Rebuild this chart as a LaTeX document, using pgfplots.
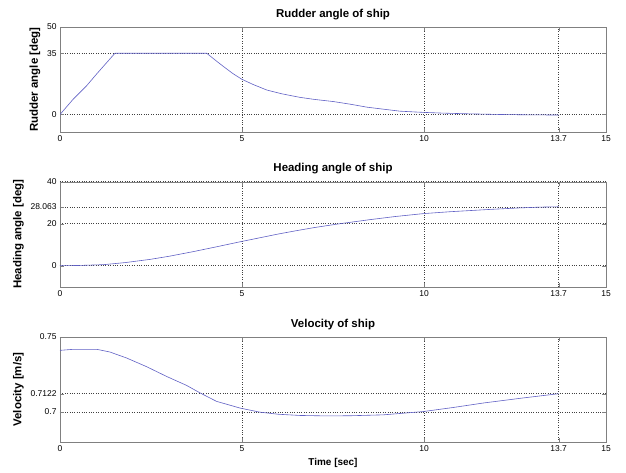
\documentclass[border=0pt]{standalone}
\usepackage{fontspec}
\setmainfont{Liberation Sans}
\usepackage{pgfplots}
\pgfplotsset{compat=1.18}
\definecolor{simblue}{RGB}{96,96,196}
\pgfplotsset{
  shipax/.style={
    width=546bp, height=105bp, scale only axis,
    xmin=0, xmax=15,
    xtick={0,5,10,13.7,15}, xticklabels={0,5,10,13.7,15},
    grid=major, grid style={dotted, black!75, line width=0.5pt},
    axis line style={gray}, tick style={gray}, tick align=inside,
    major tick length=4bp,
    ticklabel style={font=\fontsize{8.5}{10}\selectfont},
    title style={font=\bfseries\fontsize{11.5}{13}\selectfont, yshift=-2bp},
    ylabel style={font=\bfseries\fontsize{11.5}{13}\selectfont},
    xlabel style={font=\bfseries\fontsize{10}{12}\selectfont},
    scaled ticks=false,
  },
  shipline/.style={simblue, line width=0.6pt, mark=none},
}
\begin{document}
\begin{tikzpicture}
\path[use as bounding box] (-60bp,132bp) rectangle (566bp,-341bp);

\begin{axis}[shipax, at={(0,0)}, anchor=south west,
  title={Rudder angle of ship}, ylabel={Rudder angle [deg]},
  ymin=-10, ymax=50, ytick={0,35,50}, yticklabels={0,35,50}]
\addplot[shipline] coordinates {
  (0,0) (0.36,8.7) (0.73,16.4) (1.0,23) (1.28,29.6) (1.51,35)
  (4.03,35) (4.3,30.5) (4.53,26.8) (4.75,23.4) (4.99,20.2) (5.3,17.2)
  (5.68,14.0) (6.1,11.8) (6.59,9.8) (7.0,8.6) (7.51,7.4) (8.0,5.8)
  (8.43,4.2) (8.9,3.0) (9.34,1.9) (9.89,1.3) (10.5,0.8) (11.2,0.4)
  (12.1,0.0) (12.9,-0.2) (13.7,-0.3)
};
\end{axis}

\begin{axis}[shipax, at={(0,-154.7bp)}, anchor=south west,
  title={Heading angle of ship}, ylabel={Heading angle [deg]},
  ymin=-10, ymax=40, ytick={0,20,28.063,40}, yticklabels={0,20,28.063,40}]
\addplot[shipline] coordinates {
  (0,0) (0.5,0.1) (1.2,0.5) (1.8,1.5) (2.47,3.0) (3.0,4.5) (3.66,6.7)
  (4.3,9.0) (4.95,11.4) (5.49,13.3) (6.0,15.1) (6.5,16.7) (7.0,18.2)
  (7.69,20.0) (8.5,21.9) (9.2,23.4) (9.98,24.8) (10.71,25.7) (11.81,26.8)
  (12.6,27.5) (13.19,27.9) (13.7,28.063)
};
\end{axis}

\begin{axis}[shipax, at={(0,-310bp)}, anchor=south west,
  title={Velocity of ship}, ylabel={Velocity [m/s]}, xlabel={Time [sec]},
  ymin=0.68, ymax=0.75, ytick={0.7,0.7122,0.75}, yticklabels={0.7,0.7122,0.75}]
\addplot[shipline] coordinates {
  (0,0.7411) (0.37,0.7418) (1.01,0.7418) (1.37,0.7400) (1.83,0.7360)
  (2.38,0.7302) (2.93,0.7237) (3.48,0.7177) (3.85,0.7127) (4.3,0.7071)
  (4.95,0.7026) (5.49,0.6999) (6.0,0.6985) (6.59,0.6977) (7.3,0.6974)
  (7.97,0.6975) (8.88,0.6981) (9.98,0.7003) (10.8,0.7030) (11.63,0.7060)
  (12.7,0.7093) (13.7,0.7122)
};
\end{axis}
\end{tikzpicture}
\end{document}
